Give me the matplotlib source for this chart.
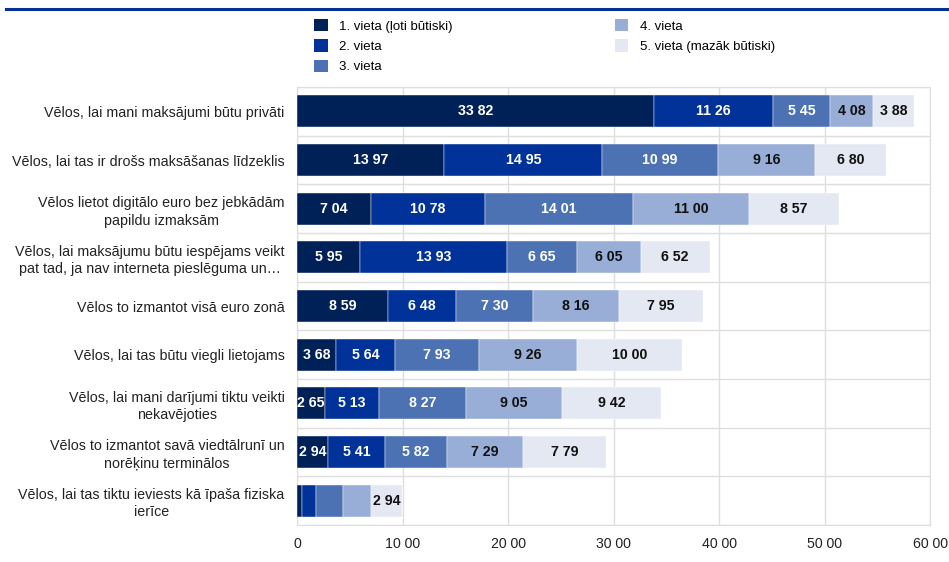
import matplotlib
matplotlib.use('Agg')
import matplotlib.pyplot as plt
from matplotlib.patches import Patch
from matplotlib.ticker import FuncFormatter, FixedLocator
from matplotlib.lines import Line2D
import numpy as np

plt.rcParams['font.family'] = ['Liberation Sans', 'DejaVu Sans']

categories = [
    'Vēlos, lai mani maksājumi būtu privāti',
    'Vēlos, lai tas ir drošs maksāšanas līdzeklis',
    'Vēlos lietot digitālo euro bez jebkādām\npapildu izmaksām',
    'Vēlos, lai maksājumu būtu iespējams veikt\npat tad, ja nav interneta pieslēguma un…',
    'Vēlos to izmantot visā euro zonā',
    'Vēlos, lai tas būtu viegli lietojams',
    'Vēlos, lai mani darījumi tiktu veikti\nnekavējoties',
    'Vēlos to izmantot savā viedtālrunī un\nnorēķinu terminālos',
    'Vēlos, lai tas tiktu ieviests kā īpaša fiziska\nierīce',
]

series_names = ['1. vieta (ļoti būtiski)', '2. vieta', '3. vieta',
                '4. vieta', '5. vieta (mazāk būtiski)']

rank1 = [33.82, 13.97, 7.04, 5.95, 8.59, 3.68, 2.65, 2.94, 0.50]
rank2 = [11.26, 14.95, 10.78, 13.93, 6.48, 5.64, 5.13, 5.41, 1.33]
rank3 = [5.45, 10.99, 14.01, 6.65, 7.30, 7.93, 8.27, 5.82, 2.56]
rank4 = [4.08, 9.16, 11.00, 6.05, 8.16, 9.26, 9.05, 7.29, 2.62]
rank5 = [3.88, 6.80, 8.57, 6.52, 7.95, 10.00, 9.42, 7.79, 2.94]

colors = ['#002157', '#003299', '#4d72b3', '#98aed6', '#e4e8f2']
text_colors = ['white', 'white', 'white', '#111111', '#111111']


def fmt(v):
    return '{:.2f}'.format(v).replace('.', ' ')


fig = plt.figure(figsize=(9.49, 5.62), dpi=100)
ax = fig.add_axes([0.313, 0.066, 0.667, 0.779])

y = np.arange(len(categories))
left = np.zeros(len(categories))
for vals, name, col, tcol in zip([rank1, rank2, rank3, rank4, rank5],
                                 series_names, colors, text_colors):
    vals = np.array(vals)
    ax.barh(y, vals, left=left, height=0.66, color=col, label=name,
            edgecolor='white', linewidth=0.3, zorder=3)
    # segments too narrow for a label are left blank
    for yi, (l, v) in enumerate(zip(left, vals)):
        if v >= 2.64:
            ax.text(l + v / 2, yi, fmt(v), ha='center', va='center',
                    color=tcol, fontsize=10.2, fontweight='bold', zorder=4)
    left += vals

ax.set_xlim(0, 60)
ax.set_ylim(len(categories) - 0.5, -0.5)
ax.set_xticks(np.arange(0, 61, 10))
ax.xaxis.set_major_formatter(FuncFormatter(lambda v, p: '0' if v == 0 else fmt(v)))
ax.set_yticks(y)
ax.set_yticklabels(categories, fontsize=10.3, multialignment='center', linespacing=1.3)
ax.yaxis.set_minor_locator(FixedLocator(np.arange(-0.5, len(categories), 1)))
ax.tick_params(axis='both', which='both', length=0, colors='#222222')
ax.tick_params(axis='y', pad=9)
ax.tick_params(axis='x', pad=9, labelsize=10.2)
ax.grid(axis='x', which='major', color='#dedede', linewidth=1, zorder=0)
ax.grid(axis='y', which='minor', color='#dedede', linewidth=1, zorder=0)
for s in ax.spines.values():
    s.set_color('#dedede')

# blue rule across the top
fig.add_artist(Line2D([0.006, 1.0], [0.984, 0.984], color='#003299',
                      linewidth=2.2, transform=fig.transFigure))

handles = [Patch(facecolor=c, edgecolor='none') for c in colors]
fig.legend(handles, series_names, loc='upper left', bbox_to_anchor=(0.318, 0.987),
           ncol=2, frameon=False, fontsize=9.5, handlelength=1.05, handleheight=1.05,
           handletextpad=0.85, columnspacing=12.3, labelspacing=0.5)

fig.savefig('out.png', dpi=100)
